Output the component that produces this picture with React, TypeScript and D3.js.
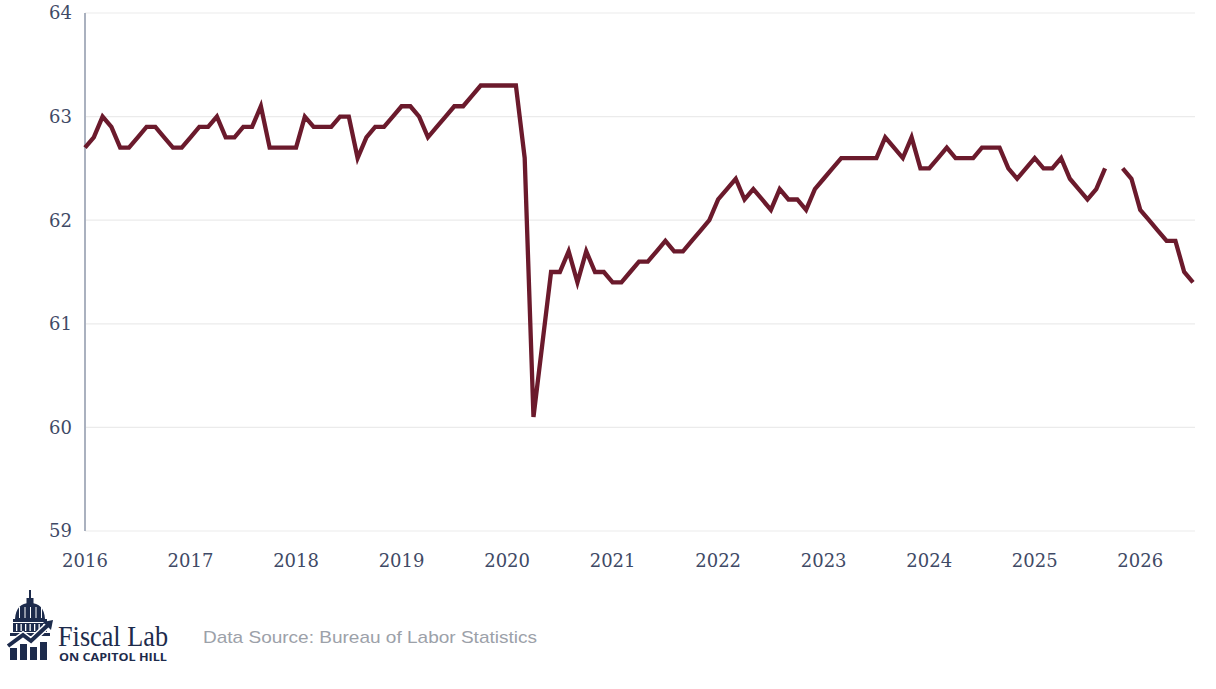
import * as d3 from 'd3';

// Labor force participation rate (%), monthly
const YEARS = [2016, 2017, 2018, 2019, 2020, 2021, 2022, 2023, 2024, 2025, 2026];
const LFPR_2016 = [62.7, 62.8, 63.0, 62.9, 62.7, 62.7, 62.8, 62.9, 62.9, 62.8, 62.7, 62.7];
const LFPR_2017 = [62.8, 62.9, 62.9, 63.0, 62.8, 62.8, 62.9, 62.9, 63.1, 62.7, 62.7, 62.7];
const LFPR_2018 = [62.7, 63.0, 62.9, 62.9, 62.9, 63.0, 63.0, 62.6, 62.8, 62.9, 62.9, 63.0];
const LFPR_2019 = [63.1, 63.1, 63.0, 62.8, 62.9, 63.0, 63.1, 63.1, 63.2, 63.3, 63.3, 63.3];
const LFPR_2020 = [63.3, 63.3, 62.6, 60.1, 60.8, 61.5, 61.5, 61.7, 61.4, 61.7, 61.5, 61.5];
const LFPR_2021 = [61.4, 61.4, 61.5, 61.6, 61.6, 61.7, 61.8, 61.7, 61.7, 61.8, 61.9, 62.0];
const LFPR_2022 = [62.2, 62.3, 62.4, 62.2, 62.3, 62.2, 62.1, 62.3, 62.2, 62.2, 62.1, 62.3];
const LFPR_2023 = [62.4, 62.5, 62.6, 62.6, 62.6, 62.6, 62.6, 62.8, 62.7, 62.6, 62.8, 62.5];
const LFPR_2024 = [62.5, 62.6, 62.7, 62.6, 62.6, 62.6, 62.7, 62.7, 62.7, 62.5, 62.4, 62.5];
// October 2025 missing (no release)
const LFPR_2025 = [62.6, 62.5, 62.5, 62.6, 62.4, 62.3, 62.2, 62.3, 62.5, null, 62.5, 62.4];
const LFPR_2026 = [62.1, 62.0, 61.9, 61.8, 61.8, 61.5, 61.4];

const Y_TICKS = [59, 60, 61, 62, 63, 64];

const SOURCE_TEXT = 'Data Source: Bureau of Labor Statistics';

const WIDTH = 1216;
const HEIGHT = 689;
const LINE_COLOR = '#6b1a2c';
const TICK_COLOR = '#3f4a66';
const NAVY = '#1d2b4c';

type Point = { i: number; v: number | null };

const values: (number | null)[] = [
  LFPR_2016, LFPR_2017, LFPR_2018, LFPR_2019, LFPR_2020, LFPR_2021,
  LFPR_2022, LFPR_2023, LFPR_2024, LFPR_2025, LFPR_2026,
].flat();
const points: Point[] = values.map((v, i) => ({ i, v }));

function Logo() {
  // capitol icon, roughly traced
  return (
    <g transform="translate(8,590)" fill={NAVY}>
      <rect x={21} y={0} width={2} height={9} />
      <rect x={18.5} y={8} width={7} height={6} />
      <path d="M7,29 Q8,13 22,13 Q36,13 37,29 Z" />
      {d3.range(5).map((k) => (
        <rect key={k} x={11 + k * 5.5} y={17} width={1} height={11} fill="#fff" />
      ))}
      <rect x={5} y={29} width={34} height={3} />
      <rect x={5} y={33} width={34} height={9} />
      {d3.range(7).map((k) => (
        <rect key={k} x={8 + k * 4.5} y={34} width={1.3} height={7} fill="#fff" />
      ))}
      <rect x={2} y={43} width={40} height={3} />
      <path
        d="M0,56 L15,45 L23,51 L40,35"
        fill="none"
        stroke="#fff"
        strokeWidth={7}
      />
      <path d="M0,56 L15,45 L23,51 L40,35" fill="none" stroke={NAVY} strokeWidth={4} />
      <path d="M35,32 L45,30 L43,40 Z" />
      <rect x={2} y={58} width={7} height={12} />
      <rect x={12} y={54} width={7} height={16} />
      <rect x={22} y={57} width={7} height={13} />
      <rect x={32} y={52} width={7} height={18} />
      <text
        x={50}
        y={56}
        fontFamily="'Liberation Serif', 'Times New Roman', serif"
        fontSize={29}
        textLength={110}
        lengthAdjust="spacingAndGlyphs"
        fill={NAVY}
      >
        Fiscal Lab
      </text>
      <text
        x={51}
        y={71}
        fontFamily="'Open Sans', 'Noto Sans', sans-serif"
        fontWeight={700}
        fontSize={10.5}
        textLength={108}
        lengthAdjust="spacingAndGlyphs"
        fill={NAVY}
      >
        ON CAPITOL HILL
      </text>
    </g>
  );
}

export default function App() {
  const x = d3.scaleLinear().domain([0, 126]).range([85, 1193]);
  const y = d3.scaleLinear().domain([59, 64]).range([531, 13]);

  const line = d3
    .line<Point>()
    .defined((d) => d.v != null)
    .x((d) => x(d.i))
    .y((d) => y(d.v as number));

  return (
    <div style={{ position: 'fixed', left: 0, top: 0, background: '#fff' }}>
      <svg width={WIDTH} height={HEIGHT} style={{ display: 'block' }}>
        <rect width={WIDTH} height={HEIGHT} fill="#fff" />
        {/* gridlines */}
        <g stroke="#ebebeb" strokeWidth={1.2}>
          {Y_TICKS.map((t) => (
            <line key={t} x1={x(0)} x2={1195} y1={y(t)} y2={y(t)} />
          ))}
        </g>
        <line x1={x(0)} x2={x(0)} y1={y(64)} y2={y(59)} stroke="#aab1bf" strokeWidth={2} />
        {/* y tick labels */}
        <g
          fontFamily="Georgia, 'DejaVu Serif', serif"
          fontSize={18}
          fill={TICK_COLOR}
          textAnchor="end"
        >
          {Y_TICKS.map((t) => (
            <text key={t} x={72} y={y(t)} dy="0.35em">
              {t}
            </text>
          ))}
        </g>
        {/* x tick labels */}
        <g
          fontFamily="Georgia, 'DejaVu Serif', serif"
          fontSize={18}
          fill={TICK_COLOR}
          textAnchor="middle"
        >
          {YEARS.map((yr, k) => (
            <text key={yr} x={x(k * 12)} y={567}>
              {yr}
            </text>
          ))}
        </g>
        <path
          d={line(points) ?? ''}
          fill="none"
          stroke={LINE_COLOR}
          strokeWidth={4.3}
          strokeLinejoin="miter"
        />
        <Logo />
        <text
          x={203}
          y={643}
          fontFamily="'Liberation Sans', Arial, sans-serif"
          fontSize={17}
          textLength={334}
          lengthAdjust="spacingAndGlyphs"
          fill="#9ca1a9"
        >
          {SOURCE_TEXT}
        </text>
      </svg>
    </div>
  );
}
